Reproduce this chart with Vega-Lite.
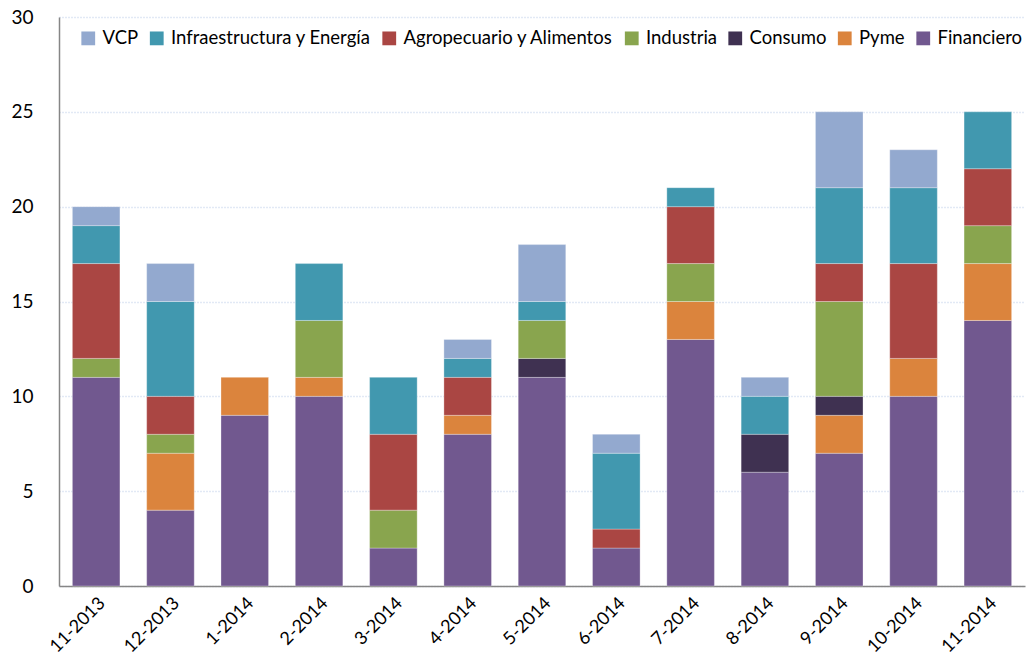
{
  "$schema": "https://vega.github.io/schema/vega-lite/v6.json",
  "width": 966,
  "height": 569,
  "autosize": {"type": "none"},
  "padding": {"left": 59, "top": 17, "right": 2, "bottom": 77},
  "background": "white",
  "config": {
    "font": "Lato",
    "view": {"stroke": null}
  },
  "data": {
    "values": [
      {"mes": "11-2013", "sector": "Financiero", "k": 1, "v": 11},
      {"mes": "11-2013", "sector": "Industria", "k": 4, "v": 1},
      {"mes": "11-2013", "sector": "Agropecuario y Alimentos", "k": 5, "v": 5},
      {"mes": "11-2013", "sector": "Infraestructura y Energía", "k": 6, "v": 2},
      {"mes": "11-2013", "sector": "VCP", "k": 7, "v": 1},
      {"mes": "12-2013", "sector": "Financiero", "k": 1, "v": 4},
      {"mes": "12-2013", "sector": "Pyme", "k": 2, "v": 3},
      {"mes": "12-2013", "sector": "Industria", "k": 4, "v": 1},
      {"mes": "12-2013", "sector": "Agropecuario y Alimentos", "k": 5, "v": 2},
      {"mes": "12-2013", "sector": "Infraestructura y Energía", "k": 6, "v": 5},
      {"mes": "12-2013", "sector": "VCP", "k": 7, "v": 2},
      {"mes": "1-2014", "sector": "Financiero", "k": 1, "v": 9},
      {"mes": "1-2014", "sector": "Pyme", "k": 2, "v": 2},
      {"mes": "2-2014", "sector": "Financiero", "k": 1, "v": 10},
      {"mes": "2-2014", "sector": "Pyme", "k": 2, "v": 1},
      {"mes": "2-2014", "sector": "Industria", "k": 4, "v": 3},
      {"mes": "2-2014", "sector": "Infraestructura y Energía", "k": 6, "v": 3},
      {"mes": "3-2014", "sector": "Financiero", "k": 1, "v": 2},
      {"mes": "3-2014", "sector": "Industria", "k": 4, "v": 2},
      {"mes": "3-2014", "sector": "Agropecuario y Alimentos", "k": 5, "v": 4},
      {"mes": "3-2014", "sector": "Infraestructura y Energía", "k": 6, "v": 3},
      {"mes": "4-2014", "sector": "Financiero", "k": 1, "v": 8},
      {"mes": "4-2014", "sector": "Pyme", "k": 2, "v": 1},
      {"mes": "4-2014", "sector": "Agropecuario y Alimentos", "k": 5, "v": 2},
      {"mes": "4-2014", "sector": "Infraestructura y Energía", "k": 6, "v": 1},
      {"mes": "4-2014", "sector": "VCP", "k": 7, "v": 1},
      {"mes": "5-2014", "sector": "Financiero", "k": 1, "v": 11},
      {"mes": "5-2014", "sector": "Consumo", "k": 3, "v": 1},
      {"mes": "5-2014", "sector": "Industria", "k": 4, "v": 2},
      {"mes": "5-2014", "sector": "Infraestructura y Energía", "k": 6, "v": 1},
      {"mes": "5-2014", "sector": "VCP", "k": 7, "v": 3},
      {"mes": "6-2014", "sector": "Financiero", "k": 1, "v": 2},
      {"mes": "6-2014", "sector": "Agropecuario y Alimentos", "k": 5, "v": 1},
      {"mes": "6-2014", "sector": "Infraestructura y Energía", "k": 6, "v": 4},
      {"mes": "6-2014", "sector": "VCP", "k": 7, "v": 1},
      {"mes": "7-2014", "sector": "Financiero", "k": 1, "v": 13},
      {"mes": "7-2014", "sector": "Pyme", "k": 2, "v": 2},
      {"mes": "7-2014", "sector": "Industria", "k": 4, "v": 2},
      {"mes": "7-2014", "sector": "Agropecuario y Alimentos", "k": 5, "v": 3},
      {"mes": "7-2014", "sector": "Infraestructura y Energía", "k": 6, "v": 1},
      {"mes": "8-2014", "sector": "Financiero", "k": 1, "v": 6},
      {"mes": "8-2014", "sector": "Consumo", "k": 3, "v": 2},
      {"mes": "8-2014", "sector": "Infraestructura y Energía", "k": 6, "v": 2},
      {"mes": "8-2014", "sector": "VCP", "k": 7, "v": 1},
      {"mes": "9-2014", "sector": "Financiero", "k": 1, "v": 7},
      {"mes": "9-2014", "sector": "Pyme", "k": 2, "v": 2},
      {"mes": "9-2014", "sector": "Consumo", "k": 3, "v": 1},
      {"mes": "9-2014", "sector": "Industria", "k": 4, "v": 5},
      {"mes": "9-2014", "sector": "Agropecuario y Alimentos", "k": 5, "v": 2},
      {"mes": "9-2014", "sector": "Infraestructura y Energía", "k": 6, "v": 4},
      {"mes": "9-2014", "sector": "VCP", "k": 7, "v": 4},
      {"mes": "10-2014", "sector": "Financiero", "k": 1, "v": 10},
      {"mes": "10-2014", "sector": "Pyme", "k": 2, "v": 2},
      {"mes": "10-2014", "sector": "Agropecuario y Alimentos", "k": 5, "v": 5},
      {"mes": "10-2014", "sector": "Infraestructura y Energía", "k": 6, "v": 4},
      {"mes": "10-2014", "sector": "VCP", "k": 7, "v": 2},
      {"mes": "11-2014", "sector": "Financiero", "k": 1, "v": 14},
      {"mes": "11-2014", "sector": "Pyme", "k": 2, "v": 3},
      {"mes": "11-2014", "sector": "Industria", "k": 4, "v": 2},
      {"mes": "11-2014", "sector": "Agropecuario y Alimentos", "k": 5, "v": 3},
      {"mes": "11-2014", "sector": "Infraestructura y Energía", "k": 6, "v": 3}
    ]
  },
  "mark": {"type": "bar", "stroke": "#ffffff", "strokeWidth": 0.6, "strokeOpacity": 0.5},
  "encoding": {
    "x": {
      "field": "mes",
      "type": "nominal",
      "sort": ["11-2013","12-2013","1-2014","2-2014","3-2014","4-2014","5-2014","6-2014","7-2014","8-2014","9-2014","10-2014","11-2014"],
      "scale": {"paddingInner": 0.36, "paddingOuter": 0.18},
      "axis": {
        "title": null,
        "labelAngle": -45,
        "labelFontSize": 18,
        "labelColor": "#000000",
        "labelPadding": 8,
        "ticks": false,
        "domainColor": "#868686",
        "domainWidth": 1.5
      }
    },
    "y": {
      "field": "v",
      "type": "quantitative",
      "stack": "zero",
      "scale": {"domain": [0, 30], "nice": false},
      "axis": {
        "title": null,
        "values": [0, 5, 10, 15, 20, 25, 30],
        "labelFontSize": 19,
        "labelColor": "#000000",
        "labelPadding": 26,
        "ticks": false,
        "domainColor": "#868686",
        "domainWidth": 1.5,
        "grid": true,
        "gridColor": "#C6D4EC",
        "gridDash": [1, 2],
        "gridWidth": 1.5
      }
    },
    "color": {
      "field": "sector",
      "type": "nominal",
      "scale": {
        "domain": ["VCP", "Infraestructura y Energía", "Agropecuario y Alimentos", "Industria", "Consumo", "Pyme", "Financiero"],
        "range": ["#93A9CF", "#4198AF", "#AA4643", "#89A54E", "#3F3151", "#DB843D", "#71588F"]
      },
      "legend": {
        "title": null,
        "orient": "none",
        "legendX": 16,
        "legendY": 8,
        "direction": "horizontal",
        "columns": 7,
        "symbolType": "square",
        "symbolSize": 190,
        "symbolStrokeWidth": 0,
        "symbolOpacity": 1,
        "labelFontSize": 18.5,
        "labelColor": "#000000",
        "labelLimit": 400,
        "columnPadding": 8.5,
        "labelOffset": 5,
        "fillColor": "#ffffff",
        "padding": 4
      }
    },
    "order": {"field": "k", "type": "quantitative", "sort": "ascending"}
  }
}
